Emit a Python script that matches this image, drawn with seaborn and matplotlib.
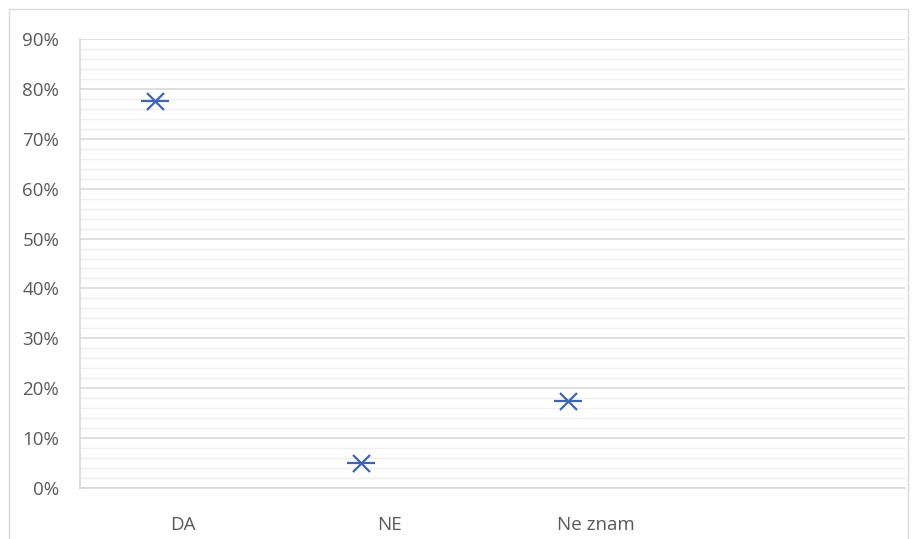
import matplotlib
matplotlib.use("Agg")
import matplotlib.pyplot as plt
import seaborn as sns
import pandas as pd
import numpy as np
from matplotlib.patches import Rectangle
from matplotlib.ticker import MultipleLocator, FuncFormatter

categories = ["DA", "NE", "Ne znam"]
values = [77.5, 5.0, 17.5]

df = pd.DataFrame({"pos": np.arange(len(categories)), "val": values})

sns.set_theme(style="white")
plt.rcParams['font.family'] = ['Open Sans', 'DejaVu Sans']

fig = plt.figure(figsize=(9.17, 5.39), dpi=100)
ax = fig.add_axes([80/917, 1-488/539, (905-80)/917, (488-39)/539])

blue = "#3F64B4"
sns.scatterplot(data=df, x="pos", y="val", marker="x", s=150, color=blue,
                linewidth=1.6, ax=ax, zorder=5)
sns.scatterplot(data=df, x="pos", y="val", marker="_", s=420, color=blue,
                linewidth=1.6, ax=ax, zorder=5)

offset = 0.364
ax.set_xlim(-offset, 4 - offset)
ax.set_ylim(0, 90)
ax.set_xticks(np.arange(len(categories)) + (0.5 - offset))
ax.set_xticklabels(categories)
ax.yaxis.set_major_locator(MultipleLocator(10))
ax.yaxis.set_minor_locator(MultipleLocator(2))
ax.yaxis.set_major_formatter(FuncFormatter(lambda v, p: f"{int(round(v))}%"))
ax.grid(True, which="major", axis="y", color="#D9D9D9", linewidth=1.2)
ax.grid(True, which="minor", axis="y", color="#EFEFEF", linewidth=1.0)
ax.set_axisbelow(True)
ax.set_xlabel("")
ax.set_ylabel("")
for s in ["top", "right"]:
    ax.spines[s].set_visible(False)
ax.spines["left"].set_color("#D9D9D9")
ax.spines["bottom"].set_color("#D9D9D9")
ax.spines["left"].set_linewidth(1.2)
ax.spines["bottom"].set_linewidth(1.2)
ax.tick_params(axis="both", which="both", length=0, labelsize=13.5, labelcolor="#595959")
ax.tick_params(axis="y", pad=15)
ax.tick_params(axis="x", pad=20)

fig.patches.append(Rectangle((9/917, -0.1), (908-9)/917, 1.1 - 9/539,
                             transform=fig.transFigure, fill=False,
                             edgecolor="#D9D9D9", linewidth=1.0))

fig.savefig("out.png", dpi=100)
